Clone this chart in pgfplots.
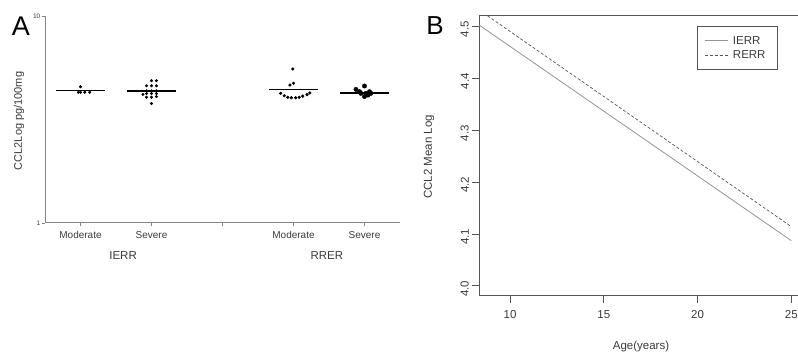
\documentclass[border=0pt]{standalone}
\usepackage{pgfplots}
\pgfplotsset{compat=1.18}
\usepackage{fontspec}
\setmainfont{Liberation Sans}
\definecolor{axgray}{HTML}{858585}
\definecolor{txtgray}{HTML}{3A3A3A}
\definecolor{boxgray}{HTML}{555555}
\begin{document}
\begin{tikzpicture}
\path[use as bounding box] (0pt,0pt) rectangle (798pt,353pt);
% ---------------- Panel A ----------------
\begin{axis}[
  at={(45pt,130pt)}, anchor=south west,
  scale only axis, width=355pt, height=207pt,
  xmin=0.5, xmax=5.5, ymode=log, ymin=1, ymax=10,
  axis x line*=bottom, axis y line*=left,
  axis line style={axgray, line width=1pt, -},
  xtick={1,2,3,4,5}, xticklabels={Moderate,Severe,,Moderate,Severe},
  ytick={1,10}, yticklabels={1,10}, yminorticks=false,
  tick align=outside, major tick length=3.5pt,
  tick style={axgray, line width=0.8pt},
  xticklabel style={font=\fontsize{10}{12}\selectfont, text=txtgray, yshift=-1pt},
  yticklabel style={font=\fontsize{6.5}{7}\selectfont, text=txtgray, inner sep=1pt},
  clip=false,
]
% medians
\addplot[black, line width=1.3pt] coordinates {(0.66,4.38) (1.34,4.38)};
\addplot[black, line width=1.3pt] coordinates {(1.66,4.34) (2.34,4.34)};
\addplot[black, line width=1.3pt] coordinates {(3.66,4.40) (4.34,4.40)};
\addplot[black, line width=1.3pt] coordinates {(4.66,4.25) (5.34,4.25)};
% IERR moderate
\addplot[only marks, mark=*, mark size=1.3pt, black] coordinates {
 (1.00,4.55) (0.97,4.28) (1.00,4.28) (1.06,4.28) (1.13,4.28)};
% IERR severe
\addplot[only marks, mark=*, mark size=1.3pt, black] coordinates {
 (2.00,4.87) (2.07,4.87)
 (1.93,4.60) (2.00,4.60) (2.07,4.60)
 (1.93,4.35) (2.00,4.35) (2.07,4.35)
 (1.88,4.18) (1.93,4.22) (2.00,4.22) (2.07,4.22)
 (1.93,4.05) (2.00,4.05) (2.07,4.08)
 (2.00,3.78)};
% RRER moderate
\addplot[only marks, mark=*, mark size=1.4pt, black] coordinates {
 (3.99,5.55) (3.95,4.64) (4.00,4.73)
 (3.82,4.23) (3.87,4.12) (3.92,4.05) (3.97,4.03) (4.03,4.03)
 (4.08,4.05) (4.13,4.10) (4.19,4.17) (4.23,4.25)};
% RRER severe
\addplot[only marks, mark=*, mark size=2.2pt, black] coordinates {
 (4.88,4.42) (5.00,4.59) (4.93,4.31) (5.02,4.23) (5.07,4.31)
 (5.00,4.08) (5.05,4.15) (4.95,4.23) (5.09,4.23)};
\node[text=txtgray, font=\fontsize{11.5}{13}\selectfont] at (axis cs:1.6,1) [yshift=-33pt] {IERR};
\node[text=txtgray, font=\fontsize{11.5}{13}\selectfont] at (axis cs:4.47,1) [yshift=-33pt] {RRER};
\end{axis}
\node[rotate=90, text=txtgray, font=\fontsize{11}{13}\selectfont] at (19pt,232pt) {CCL2Log pg/100mg};
\node[font=\fontsize{27}{30}\selectfont] at (21pt,327pt) {A};
% ---------------- Panel B ----------------
\begin{axis}[
  at={(479.3pt,57.3pt)}, anchor=south west,
  scale only axis, width=324pt, height=280.4pt,
  xmin=8.36, xmax=25.64, ymin=3.981, ymax=4.521,
  xtick={10,15,20,25}, xticklabels={10,15,20,25},
  ytick={4.0,4.1,4.2,4.3,4.4,4.5}, yticklabels={4.0,4.1,4.2,4.3,4.4,4.5},
  tick pos=left, tick align=outside, major tick length=7pt,
  axis line style={boxgray, line width=0.9pt},
  tick style={boxgray, line width=0.8pt},
  xticklabel style={font=\fontsize{11.5}{13}\selectfont, text=txtgray, yshift=-4pt},
  yticklabel style={font=\fontsize{11.5}{13}\selectfont, text=txtgray, rotate=90, anchor=south, xshift=-3pt},
  legend style={at={(0.671,0.963)}, anchor=north west, draw=boxgray, line width=0.9pt,
    font=\fontsize{11.5}{13}\selectfont, text=txtgray, inner xsep=7pt, inner ysep=9pt,
    row sep=3pt, nodes={inner xsep=5pt, inner ysep=1pt}},
  legend image code/.code={\draw[#1] (0pt,0pt) -- (23pt,0pt);},
  legend cell align=left,
]
\addplot[gray!85, line width=0.8pt] coordinates {(8.36,4.502) (25,4.087)};
\addlegendentry{IERR}
\addplot[boxgray, line width=0.7pt, dash pattern=on 3pt off 2pt] coordinates {(8.36,4.531) (25,4.114)};
\addlegendentry{RERR}
\end{axis}
\node[rotate=90, text=txtgray, font=\fontsize{11.5}{13}\selectfont] at (429pt,196pt) {CCL2 Mean Log};
\node[text=txtgray, font=\fontsize{11.5}{13}\selectfont] at (641pt,6pt) {Age(years)};
\node[font=\fontsize{26}{30}\selectfont] at (435pt,327pt) {B};
\end{tikzpicture}
\end{document}
